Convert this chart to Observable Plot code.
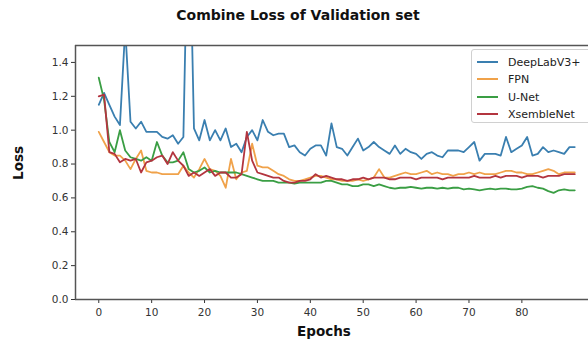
<!DOCTYPE html>
<html>
<head>
<meta charset="utf-8">
<script src="https://cdn.jsdelivr.net/npm/d3@7"></script>
<script src="https://cdn.jsdelivr.net/npm/@observablehq/plot@0.6"></script>
<style>
  html, body { margin: 0; padding: 0; background: #fff; }
  #wrap { position: relative; width: 588px; height: 346px; overflow: hidden; font-family: "DejaVu Sans", sans-serif; }
  #title { position: absolute; left: 0; width: 596px; top: 7px; text-align: center; font-weight: bold; font-size: 14px; color: #111; }
  #xlabel { position: absolute; left: 75px; width: 498px; top: 323px; text-align: center; font-weight: bold; font-size: 13.5px; color: #111; }
  #ylabel { position: absolute; left: 18px; top: 163px; transform: translate(-50%, -50%) rotate(-90deg); font-weight: bold; font-size: 13.5px; color: #111; }
  #legend { position: absolute; left: 471px; top: 49px; width: 130px; height: 74px; border: 1px solid #d0d0d0; border-radius: 3px; background: rgba(255,255,255,0.85); box-sizing: border-box; }
  .row { position: absolute; left: 5px; height: 14px; display: flex; align-items: center; font-size: 11px; color: #222; }
  .sw { width: 21px; height: 0; border-top: 2px solid; margin-right: 10px; }
  svg { position: absolute; left: 0; top: 0; }
</style>
</head>
<body>
<div id="wrap">
  <div id="chart"></div>
  <div id="title">Combine Loss of Validation set</div>
  <div id="xlabel">Epochs</div>
  <div id="ylabel">Loss</div>
  <div id="legend"></div>
</div>
<script>
// Series names and colours
const seriesNames = ["DeepLabV3+", "FPN", "U-Net", "XsembleNet"];
const seriesColors = ["#3a7fb0", "#f0a24a", "#3a9e44", "#b3353f"];

// Values per epoch (epoch 0 .. 90)
const deeplab = [1.15, 1.22, 1.15, 1.08, 1.03, 1.60, 1.05, 1.01, 1.05, 0.99,
  0.99, 0.99, 0.96, 0.95, 0.97, 0.92, 0.96, 2.50, 1.01, 0.94,
  1.06, 0.94, 1.00, 0.94, 1.01, 0.90, 0.92, 0.87, 0.96, 1.00,
  0.94, 1.06, 0.99, 0.97, 0.98, 0.98, 0.90, 0.91, 0.87, 0.85,
  0.89, 0.91, 0.91, 0.85, 1.04, 0.90, 0.89, 0.85, 0.90, 0.95,
  0.88, 0.90, 0.93, 0.90, 0.88, 0.86, 0.91, 0.86, 0.89, 0.87,
  0.86, 0.83, 0.86, 0.87, 0.85, 0.84, 0.88, 0.88, 0.88, 0.87,
  0.90, 0.93, 0.82, 0.86, 0.86, 0.86, 0.85, 0.96, 0.87, 0.89,
  0.91, 0.96, 0.85, 0.86, 0.90, 0.87, 0.88, 0.87, 0.86, 0.90, 0.90];

const fpn = [0.99, 0.93, 0.87, 0.85, 0.85, 0.82, 0.77, 0.83, 0.88, 0.76,
  0.75, 0.75, 0.74, 0.74, 0.74, 0.74, 0.79, 0.75, 0.72, 0.77,
  0.83, 0.77, 0.76, 0.73, 0.66, 0.83, 0.71, 0.75, 0.76, 0.92,
  0.79, 0.78, 0.78, 0.76, 0.74, 0.73, 0.71, 0.70, 0.70, 0.71,
  0.72, 0.73, 0.73, 0.72, 0.71, 0.71, 0.70, 0.70, 0.70, 0.71,
  0.70, 0.71, 0.72, 0.77, 0.72, 0.72, 0.73, 0.74, 0.75, 0.74,
  0.74, 0.75, 0.76, 0.74, 0.75, 0.74, 0.74, 0.73, 0.74, 0.74,
  0.75, 0.74, 0.75, 0.74, 0.74, 0.74, 0.75, 0.76, 0.76, 0.75,
  0.75, 0.74, 0.74, 0.75, 0.76, 0.77, 0.76, 0.74, 0.75, 0.75, 0.75];

const unet = [1.31, 1.18, 0.93, 0.87, 1.00, 0.88, 0.84, 0.83, 0.82, 0.84,
  0.82, 0.93, 0.85, 0.81, 0.81, 0.82, 0.87, 0.77, 0.75, 0.76,
  0.78, 0.75, 0.76, 0.75, 0.75, 0.75, 0.75, 0.74, 0.73, 0.72,
  0.71, 0.70, 0.70, 0.70, 0.69, 0.69, 0.69, 0.685, 0.69, 0.69,
  0.69, 0.69, 0.69, 0.70, 0.70, 0.69, 0.68, 0.68, 0.67, 0.67,
  0.68, 0.68, 0.67, 0.68, 0.67, 0.66, 0.655, 0.66, 0.66, 0.665,
  0.66, 0.655, 0.66, 0.66, 0.655, 0.66, 0.655, 0.66, 0.66, 0.65,
  0.655, 0.65, 0.645, 0.65, 0.655, 0.65, 0.655, 0.655, 0.65, 0.65,
  0.655, 0.665, 0.67, 0.66, 0.655, 0.64, 0.63, 0.645, 0.65, 0.645, 0.645];

const xsemble = [1.20, 1.21, 0.87, 0.86, 0.81, 0.83, 0.82, 0.83, 0.75, 0.81,
  0.82, 0.84, 0.85, 0.80, 0.87, 0.82, 0.79, 0.73, 0.75, 0.73,
  0.75, 0.77, 0.73, 0.75, 0.75, 0.72, 0.72, 0.74, 0.99, 0.82,
  0.75, 0.74, 0.73, 0.72, 0.72, 0.70, 0.69, 0.69, 0.70, 0.70,
  0.71, 0.74, 0.72, 0.73, 0.72, 0.71, 0.71, 0.70, 0.71, 0.71,
  0.72, 0.71, 0.72, 0.72, 0.72, 0.71, 0.71, 0.72, 0.72, 0.72,
  0.71, 0.72, 0.72, 0.72, 0.72, 0.71, 0.72, 0.72, 0.72, 0.72,
  0.72, 0.73, 0.72, 0.72, 0.72, 0.73, 0.72, 0.73, 0.73, 0.73,
  0.72, 0.73, 0.73, 0.73, 0.72, 0.73, 0.73, 0.73, 0.74, 0.74, 0.74];

const xTicks = [0, 10, 20, 30, 40, 50, 60, 70, 80];
const yTicks = [0.0, 0.2, 0.4, 0.6, 0.8, 1.0, 1.2, 1.4];
const xDomain = [-4.4, 92.6];
const yDomain = [0, 1.5];

const allSeries = [deeplab, fpn, unet, xsemble];

const chart = Plot.plot({
  width: 588,
  height: 346,
  marginLeft: 75,
  marginRight: 0,
  marginTop: 45,
  marginBottom: 47,
  style: { fontFamily: "DejaVu Sans, sans-serif", fontSize: "10.5px", color: "#333", background: "transparent" },
  x: { domain: xDomain, ticks: xTicks, tickSize: 4, tickPadding: 5, label: null },
  y: { domain: yDomain, ticks: yTicks, tickSize: 4, tickPadding: 3, tickFormat: d3.format(".1f"), label: null },
  marks: [
    ...allSeries.map((s, k) => Plot.lineY(s, { x: (d, i) => i, y: d => d, stroke: seriesColors[k], strokeWidth: 1.8, clip: true })),
    Plot.ruleY([yDomain[0], yDomain[1]], { stroke: "#555", strokeWidth: 1.5 }),
    Plot.ruleX([xDomain[0]], { stroke: "#555", strokeWidth: 1.5 })
  ]
});
document.getElementById("chart").appendChild(chart);

// Legend
const legend = document.getElementById("legend");
const rowTops = [5, 22, 40, 57];
seriesNames.forEach((name, k) => {
  const row = document.createElement("div");
  row.className = "row";
  row.style.top = rowTops[k] + "px";
  const sw = document.createElement("span");
  sw.className = "sw";
  sw.style.borderTopColor = seriesColors[k];
  row.appendChild(sw);
  row.appendChild(document.createTextNode(name));
  legend.appendChild(row);
});
</script>
</body>
</html>
